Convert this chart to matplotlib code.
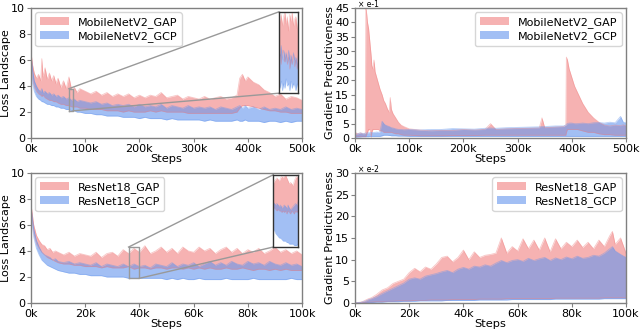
import matplotlib
matplotlib.use("Agg")
import matplotlib.pyplot as plt
from matplotlib.ticker import FuncFormatter, MultipleLocator

# ---------------- data (steps in thousands) ----------------
# Panel 1: MobileNetV2 loss landscape
mb_loss_x = [0, 3, 6, 10, 14, 18, 20, 22, 26, 30, 34, 38, 42, 46, 50, 55, 60, 65, 70, 75,
             80, 85, 90, 100, 110, 120, 130, 140, 150, 160, 170, 180, 190, 200, 210, 220,
             230, 240, 250, 260, 270, 280, 290, 300, 310, 320, 330, 340, 350, 360, 370,
             380, 385, 390, 395, 400, 410, 420, 430, 440, 450, 460, 470, 480, 490, 500]
mb_loss_gap_hi = [6.6, 5.6, 5.0, 4.6, 4.9, 4.4, 6.1, 4.7, 5.4, 4.5, 5.0, 4.4, 4.8, 4.2, 4.6, 3.9,
                  4.4, 3.8, 4.7, 3.7, 3.9, 3.5, 3.8, 3.6, 3.4, 3.6, 3.3, 3.5, 3.2, 3.4, 3.2, 3.4,
                  3.1, 3.3, 3.1, 3.3, 3.2, 3.5, 3.1, 3.2, 3.3, 3.0, 3.2, 3.1, 3.0, 3.2, 3.0, 3.1,
                  3.2, 3.0, 3.1, 3.3, 4.6, 4.9, 4.4, 4.7, 4.3, 4.1, 3.7, 3.5, 3.2, 3.4, 3.0, 3.2,
                  3.1, 2.9]
mb_loss_gap_lo = [6.0, 4.6, 4.0, 3.6, 3.4, 3.3, 3.2, 3.3, 3.1, 3.0, 2.9, 2.9, 2.8, 2.8, 2.7, 2.6,
                  2.6, 2.5, 2.5, 2.4, 2.4, 2.4, 2.3, 2.3, 2.2, 2.2, 2.2, 2.1, 2.1, 2.1, 2.0, 2.1,
                  2.0, 2.0, 2.0, 2.1, 2.0, 2.1, 2.0, 2.0, 2.0, 2.0, 1.9, 1.9, 1.9, 1.9, 1.9, 1.9,
                  1.9, 1.9, 1.9, 2.0, 2.3, 2.5, 2.5, 2.5, 2.4, 2.3, 2.2, 2.1, 2.1, 2.0, 2.0, 1.9,
                  1.9, 1.9]
mb_loss_gcp_hi = [6.4, 5.2, 4.4, 4.0, 3.7, 3.6, 3.8, 3.5, 3.6, 3.4, 3.5, 3.3, 3.4, 3.2, 3.3, 3.1,
                  3.2, 3.0, 3.1, 2.9, 3.0, 2.8, 2.9, 2.8, 2.7, 2.8, 2.6, 2.7, 2.5, 2.6, 2.5, 2.6,
                  2.4, 2.6, 2.4, 2.5, 2.4, 2.6, 2.3, 2.5, 2.4, 2.3, 2.5, 2.3, 2.4, 2.3, 2.4, 2.2,
                  2.4, 2.3, 2.2, 2.4, 2.5, 2.3, 2.5, 2.3, 2.4, 2.2, 2.4, 2.2, 2.3, 2.2, 2.4, 2.2,
                  2.3, 2.2]
mb_loss_gcp_lo = [6.0, 4.2, 3.6, 3.2, 3.0, 2.9, 2.8, 2.8, 2.7, 2.6, 2.6, 2.5, 2.5, 2.4, 2.4, 2.3,
                  2.3, 2.2, 2.2, 2.1, 2.1, 2.0, 2.0, 1.9, 1.9, 1.8, 1.8, 1.7, 1.7, 1.7, 1.6, 1.6,
                  1.6, 1.5, 1.6, 1.5, 1.5, 1.5, 1.4, 1.5, 1.4, 1.4, 1.4, 1.4, 1.4, 1.3, 1.4, 1.3,
                  1.3, 1.3, 1.3, 1.4, 1.3, 1.3, 1.4, 1.3, 1.3, 1.3, 1.2, 1.3, 1.3, 1.2, 1.3, 1.2,
                  1.3, 1.3]
# zoomed window of panel 1
mb_zoom_x = [70.0, 70.5, 71.0, 71.5, 72.0, 72.5, 73.0, 73.5, 74.0, 74.5, 75.0,
             75.5, 76.0, 76.5, 77.0, 77.5, 78.0, 78.5, 79.0, 79.5, 80.0]
mb_zoom_gap_hi = [3.8, 3.6, 3.75, 3.5, 3.7, 3.8, 3.55, 3.7, 3.4, 3.75, 3.6,
                  3.8, 3.5, 3.65, 3.7, 3.45, 3.6, 3.3, 3.5, 3.4, 3.2]
mb_zoom_gap_lo = [2.8, 2.9, 2.7, 3.0, 2.8, 2.75, 2.9, 2.7, 2.85, 2.6, 2.8,
                  2.7, 2.9, 2.65, 2.8, 2.6, 2.75, 2.7, 2.6, 2.8, 2.7]
mb_zoom_gcp_hi = [3.0, 2.9, 3.1, 2.8, 3.0, 2.85, 2.95, 2.75, 3.0, 2.8, 2.9,
                  2.7, 2.95, 2.8, 2.85, 2.7, 2.9, 2.75, 2.8, 2.95, 3.0]
mb_zoom_gcp_lo = [2.3, 2.2, 2.35, 2.15, 2.3, 2.2, 2.4, 2.25, 2.3, 2.15, 2.35,
                  2.2, 2.3, 2.25, 2.15, 2.3, 2.2, 2.35, 2.25, 2.3, 2.2]

# Panel 2: MobileNetV2 gradient predictiveness (x e-1)
mb_gp_x = [0, 5, 10, 15, 19, 20, 21, 23, 25, 27, 29, 30, 31, 33, 35, 37, 40, 43, 46, 50,
           53, 56, 60, 63, 65, 67, 70, 75, 80, 85, 90, 100, 120, 140, 160, 180, 200, 220,
           240, 250, 260, 280, 300, 320, 340, 345, 350, 370, 385, 389, 390, 392, 395, 400,
           405, 410, 420, 430, 440, 450, 460, 470, 480, 490, 495, 500]
mb_gp_gap_hi = [2.0, 1.5, 1.8, 1.4, 1.6, 45, 44, 40, 38, 34, 30, 28, 25, 24, 27, 23, 21, 19, 17,
                15, 13, 12, 10, 9, 14, 10, 8.5, 7, 5.5, 4.5, 4, 3.2, 2.8, 2.5, 2.7, 2.6, 3.0,
                2.8, 3.0, 5.0, 3.0, 3.2, 3.3, 3.4, 3.5, 7.0, 3.6, 3.8, 4.0, 4.5, 28, 27, 24, 21,
                18, 16, 12, 9, 7, 5.5, 4.5, 4.2, 4.5, 4.3, 4.6, 4.2]
mb_gp_gap_lo = [0.5, 0.5, 0.6, 0.5, 0.5, 0.5, 1.0, 2, 3, 3, 2, 0.3, 2, 3, 3, 3, 3, 3, 2.5,
                2.5, 2, 2, 2, 2, 2, 2, 1.8, 1.5, 1.5, 1.2, 1.0, 1.0, 0.8, 0.8, 0.8, 0.9, 0.9,
                0.9, 1.0, 1.0, 1.0, 1.0, 1.0, 1.0, 1.0, 1.0, 1.0, 1.0, 1.0, 1.0, 2, 3, 3, 3, 3,
                3, 2.5, 2, 2, 1.5, 1.2, 1.2, 1.0, 1.0, 1.0, 1.0]
mb_gp_gcp_hi = [1.2, 1.5, 1.8, 1.6, 1.7, 1.8, 1.7, 1.8, 1.9, 1.8, 2.0, 1.9, 2.0, 1.9, 2.0, 2.0,
                2.1, 2.0, 2.2, 5.8, 5.0, 4.5, 4.2, 4.0, 3.8, 3.6, 3.5, 3.2, 3.0, 3.0, 2.9, 3.0,
                2.8, 3.0, 3.0, 3.3, 3.2, 3.1, 3.4, 3.5, 3.4, 3.6, 3.7, 3.8, 3.9, 4.0, 4.0, 4.2,
                4.2, 4.5, 4.8, 5.0, 5.2, 5.2, 5.0, 5.0, 5.2, 5.0, 5.3, 5.4, 5.2, 5.5, 5.3, 7.5,
                5.5, 5.3]
mb_gp_gcp_lo = [0.3, 0.4, 0.4, 0.5, 0.5, 0.5, 0.5, 0.5, 0.5, 0.6, 0.6, 0.6, 0.6, 0.6, 0.6, 0.6,
                0.6, 0.6, 0.6, 0.8, 1.0, 1.0, 1.0, 0.9, 0.9, 0.8, 0.8, 0.8, 0.7, 0.7, 0.7, 0.6,
                0.6, 0.6, 0.6, 0.6, 0.6, 0.6, 0.6, 0.6, 0.6, 0.6, 0.6, 0.6, 0.6, 0.6, 0.6, 0.6,
                0.6, 0.6, 0.6, 0.6, 0.6, 0.6, 0.6, 0.6, 0.6, 0.6, 0.6, 0.6, 0.6, 0.6, 0.6, 0.6,
                0.6, 0.6]

# Panel 3: ResNet18 loss landscape
rn_loss_x = [0, 0.5, 1, 2, 3, 4, 5, 6, 7, 8, 9, 10, 12, 14, 16, 18, 20, 22, 24, 26, 28, 30,
             32, 34, 36, 38, 40, 42, 44, 46, 48, 50, 52, 54, 56, 58, 60, 62, 64, 66, 68, 70,
             72, 74, 76, 78, 80, 82, 84, 86, 88, 90, 92, 94, 96, 98, 100]
rn_loss_gap_hi = [7.6, 6.8, 6.0, 5.2, 4.8, 4.5, 4.4, 4.1, 4.2, 3.9, 4.0, 3.9, 3.7, 3.9, 3.6,
                  3.8, 3.7, 3.6, 3.9, 3.5, 3.8, 3.9, 3.6, 4.1, 3.8, 4.2, 3.9, 4.4, 3.8, 4.0,
                  4.3, 3.9, 4.2, 3.8, 4.3, 4.0, 3.9, 4.3, 4.0, 4.2, 3.8, 4.1, 4.3, 3.9, 4.2,
                  3.8, 4.1, 3.9, 4.2, 3.8, 4.0, 4.3, 3.9, 4.1, 3.8, 4.0, 3.7]
rn_loss_gap_lo = [7.2, 6.2, 5.4, 4.6, 4.2, 3.9, 3.7, 3.5, 3.4, 3.3, 3.2, 3.1, 3.0, 3.0, 2.9,
                  2.9, 2.8, 2.8, 2.8, 2.7, 2.8, 2.7, 2.7, 2.7, 2.8, 2.6, 2.7, 2.7, 2.6, 2.7,
                  2.7, 2.6, 2.7, 2.7, 2.6, 2.7, 2.6, 2.7, 2.6, 2.7, 2.6, 2.6, 2.7, 2.6, 2.6,
                  2.7, 2.6, 2.5, 2.6, 2.6, 2.5, 2.6, 2.5, 2.6, 2.5, 2.5, 2.5]
rn_loss_gcp_hi = [7.4, 6.5, 5.7, 4.8, 4.3, 3.9, 3.7, 3.6, 3.5, 3.3, 3.4, 3.2, 3.1, 3.2, 3.0,
                  3.1, 3.0, 2.9, 3.1, 2.8, 3.0, 2.9, 2.8, 3.0, 2.8, 3.0, 2.8, 2.9, 2.7, 3.0,
                  2.9, 2.8, 3.1, 2.8, 3.0, 2.9, 3.1, 2.8, 3.0, 3.2, 2.9, 3.1, 2.9, 3.2, 3.0,
                  2.9, 3.2, 3.0, 3.1, 2.9, 3.2, 3.0, 2.9, 3.1, 2.9, 3.0, 2.8]
rn_loss_gcp_lo = [7.0, 6.0, 5.1, 4.2, 3.7, 3.3, 3.1, 2.9, 2.8, 2.7, 2.6, 2.5, 2.4, 2.3, 2.3,
                  2.2, 2.2, 2.1, 2.1, 2.1, 2.0, 2.0, 2.0, 2.0, 1.9, 1.9, 1.9, 1.9, 1.9, 1.9,
                  1.9, 1.8, 1.9, 1.8, 1.9, 1.8, 1.8, 1.9, 1.8, 1.8, 1.8, 1.8, 1.9, 1.8, 1.8,
                  1.8, 1.8, 1.9, 1.8, 1.8, 1.8, 1.8, 1.8, 1.8, 1.9, 1.8, 1.8]
# zoomed window of panel 3
rn_zoom_x = [36.0, 36.2, 36.4, 36.6, 36.8, 37.0, 37.2, 37.4, 37.6, 37.8, 38.0,
             38.2, 38.4, 38.6, 38.8, 39.0, 39.2, 39.4, 39.6, 39.8, 40.0]
rn_zoom_gap_hi = [4.0, 4.1, 4.15, 4.2, 4.15, 4.1, 4.2, 4.25, 4.2, 4.25, 4.3,
                  4.2, 4.1, 4.0, 4.05, 4.0, 3.95, 4.1, 4.2, 4.25, 4.15]
rn_zoom_gap_lo = [3.2, 3.2, 3.15, 3.1, 3.15, 3.1, 3.1, 3.05, 3.1, 3.05, 3.1,
                  3.0, 3.1, 3.05, 3.0, 3.1, 3.05, 3.0, 3.1, 3.05, 3.1]
rn_zoom_gcp_hi = [3.4, 3.35, 3.3, 3.35, 3.3, 3.25, 3.3, 3.2, 3.25, 3.3, 3.25,
                  3.2, 3.3, 3.2, 3.15, 3.2, 3.25, 3.3, 3.35, 3.3, 3.4]
rn_zoom_gcp_lo = [2.5, 2.45, 2.35, 2.3, 2.25, 2.2, 2.2, 2.15, 2.1, 2.1, 2.1,
                  2.05, 2.05, 2.0, 2.0, 2.0, 2.0, 1.95, 1.95, 1.95, 2.0]

# Panel 4: ResNet18 gradient predictiveness (x e-2)
rn_gp_x = [0, 2, 3, 4, 5, 6, 8, 10, 12, 14, 16, 18, 20, 22, 24, 26, 28, 30, 32, 34, 36, 38,
           40, 42, 44, 46, 48, 50, 52, 54, 56, 58, 60, 62, 64, 66, 68, 70, 72, 74, 76, 78,
           80, 82, 84, 86, 88, 90, 92, 94, 95, 96, 98, 100]
rn_gp_gap_hi = [0, 0.2, 0.4, 0.7, 1.0, 1.2, 2.0, 3.0, 3.5, 4.5, 5.0, 5.5, 7.0, 8.0, 7.2, 8.3,
                7.8, 9.0, 10.5, 10.8, 9.5, 10.5, 12.2, 10.0, 11.8, 10.5, 11.0, 11.2, 11.5, 15.0,
                11.5, 13.0, 12.0, 14.8, 12.5, 14.5, 12.2, 15.0, 11.8, 14.8, 12.5, 14.0, 13.0,
                14.5, 12.8, 14.0, 12.5, 14.5, 13.0, 15.5, 16.5, 13.5, 15.0, 11.5]
rn_gp_gap_lo = [0, 0, 0.1, 0.1, 0.2, 0.2, 0.3, 0.3, 0.4, 0.4, 0.5, 0.5, 0.5, 0.6, 0.6, 0.6,
                0.7, 0.7, 0.7, 0.7, 0.8, 0.8, 0.8, 0.8, 0.8, 0.9, 0.9, 0.9, 0.9, 0.9, 1.0, 1.0,
                1.0, 1.0, 1.0, 1.0, 1.0, 1.0, 1.0, 1.1, 1.1, 1.1, 1.1, 1.1, 1.1, 1.1, 1.1, 1.1,
                1.2, 1.2, 1.2, 1.2, 1.2, 1.2]
rn_gp_gcp_hi = [0, 0.1, 0.3, 0.5, 0.8, 1.0, 1.5, 2.2, 2.8, 3.4, 4.0, 4.6, 5.5, 5.8, 5.5, 6.2,
                6.5, 6.8, 7.2, 7.5, 7.0, 7.8, 8.2, 7.8, 8.5, 8.3, 8.8, 8.5, 9.2, 9.8, 9.3, 9.8,
                10.0, 9.6, 10.3, 9.8, 10.2, 10.5, 9.8, 10.4, 10.0, 10.6, 10.2, 10.8, 10.3, 10.5,
                11.0, 10.8, 11.5, 12.5, 13.0, 12.0, 11.2, 10.5]
rn_gp_gcp_lo = [0, 0, 0, 0.05, 0.1, 0.1, 0.2, 0.2, 0.3, 0.3, 0.3, 0.4, 0.4, 0.4, 0.5, 0.5,
                0.5, 0.5, 0.5, 0.6, 0.6, 0.6, 0.6, 0.6, 0.6, 0.7, 0.7, 0.7, 0.7, 0.7, 0.7, 0.8,
                0.8, 0.8, 0.8, 0.8, 0.8, 0.8, 0.8, 0.9, 0.9, 0.9, 0.9, 0.9, 0.9, 0.9, 0.9, 0.9,
                1.0, 1.0, 1.0, 1.0, 1.0, 1.0]

# ---------------- style ----------------
PINK = "lightcoral"
BLUE = "cornflowerblue"
ALPHA = 0.6
SPINE = "#808080"
plt.rcParams['font.family'] = ['DejaVu Sans']

fig = plt.figure(figsize=(6.4, 3.32), dpi=100)
positions = [
    [0.0484, 0.584, 0.4236, 0.392],
    [0.5547, 0.584, 0.4234, 0.392],
    [0.0484, 0.0873, 0.4236, 0.392],
    [0.5547, 0.0873, 0.4234, 0.392],
]
axes = [fig.add_axes(p) for p in positions]

kfmt = FuncFormatter(lambda v, p: f"{int(round(v / 1000))}k")


def k(xs):
    return [v * 1000 for v in xs]


def band(ax, xs, lo, hi, color, label=None, lw=0.6):
    X = k(xs)
    ax.fill_between(X, lo, hi, color=color, alpha=ALPHA, linewidth=0, label=label)
    ax.plot(X, hi, color=color, alpha=0.45, lw=lw)
    ax.plot(X, lo, color=color, alpha=0.45, lw=lw)


def style(ax, xmax, ymax, ystep, ylabel):
    ax.set_xlim(0, xmax)
    ax.set_ylim(0, ymax)
    ax.xaxis.set_major_formatter(kfmt)
    ax.yaxis.set_major_locator(MultipleLocator(ystep))
    for s in ax.spines.values():
        s.set_color(SPINE)
        s.set_linewidth(1.0)
    ax.tick_params(labelsize=8, length=3, width=0.8, color=SPINE, pad=1.2)
    ax.set_xlabel("Steps", fontsize=8.2, labelpad=0)
    ax.set_ylabel(ylabel, fontsize=8, labelpad=0)


def add_zoom(ax, bounds, xs, ghi, glo, bhi, blo, xlim, ylim):
    ins = ax.inset_axes(bounds, transform=ax.transData)
    band(ins, xs, glo, ghi, PINK, lw=0.4)
    band(ins, xs, blo, bhi, BLUE, lw=0.4)
    ins.set_xlim(xlim[0] * 1000, xlim[1] * 1000)
    ins.set_ylim(*ylim)
    ins.set_xticks([])
    ins.set_yticks([])
    for s in ins.spines.values():
        s.set_color("#333333")
        s.set_linewidth(1.0)
    # source rectangle
    x0, x1 = xlim[0] * 1000, xlim[1] * 1000
    ax.plot([x0, x1, x1, x0, x0], [ylim[0], ylim[0], ylim[1], ylim[1], ylim[0]],
            color="#999999", lw=1.0)
    bx0, by0, bw, bh = bounds
    ax.plot([x0, bx0], [ylim[1], by0 + bh], color="#999999", lw=1.0)
    ax.plot([x1, bx0], [ylim[0], by0], color="#999999", lw=1.0)


LEG = dict(fontsize=8, handlelength=2.6, borderpad=0.4, labelspacing=0.3, borderaxespad=0.4)

# Panel 1
ax = axes[0]
band(ax, mb_loss_x, mb_loss_gap_lo, mb_loss_gap_hi, PINK, "MobileNetV2_GAP")
band(ax, mb_loss_x, mb_loss_gcp_lo, mb_loss_gcp_hi, BLUE, "MobileNetV2_GCP")
style(ax, 500000, 10, 2, "Loss Landscape")
add_zoom(ax, [457000, 3.45, 36000, 6.25], mb_zoom_x, mb_zoom_gap_hi, mb_zoom_gap_lo,
         mb_zoom_gcp_hi, mb_zoom_gcp_lo, (70, 78), (2.1, 3.8))
ax.legend(loc="upper left", **LEG)

# Panel 2
ax = axes[1]
band(ax, mb_gp_x, mb_gp_gap_lo, mb_gp_gap_hi, PINK, "MobileNetV2_GAP")
band(ax, mb_gp_x, mb_gp_gcp_lo, mb_gp_gcp_hi, BLUE, "MobileNetV2_GCP")
style(ax, 500000, 45, 5, "Gradient Predictiveness")
ax.text(0.01, 0.99, "× e-1", transform=ax.transAxes, fontsize=5.5, va="bottom", ha="left")
ax.legend(loc="upper right", **LEG)

# Panel 3
ax = axes[2]
band(ax, rn_loss_x, rn_loss_gap_lo, rn_loss_gap_hi, PINK, "ResNet18_GAP")
band(ax, rn_loss_x, rn_loss_gcp_lo, rn_loss_gcp_hi, BLUE, "ResNet18_GCP")
style(ax, 100000, 10, 2, "Loss Landscape")
add_zoom(ax, [89300, 4.3, 9200, 5.55], rn_zoom_x, rn_zoom_gap_hi, rn_zoom_gap_lo,
         rn_zoom_gcp_hi, rn_zoom_gcp_lo, (36, 40), (1.9, 4.3))
ax.legend(loc="upper left", **LEG)

# Panel 4
ax = axes[3]
band(ax, rn_gp_x, rn_gp_gap_lo, rn_gp_gap_hi, PINK, "ResNet18_GAP")
band(ax, rn_gp_x, rn_gp_gcp_lo, rn_gp_gcp_hi, BLUE, "ResNet18_GCP")
style(ax, 100000, 30, 5, "Gradient Predictiveness")
ax.text(0.01, 0.99, "× e-2", transform=ax.transAxes, fontsize=5.5, va="bottom", ha="left")
ax.legend(loc="upper right", **LEG)

fig.savefig("out.png", dpi=100)
